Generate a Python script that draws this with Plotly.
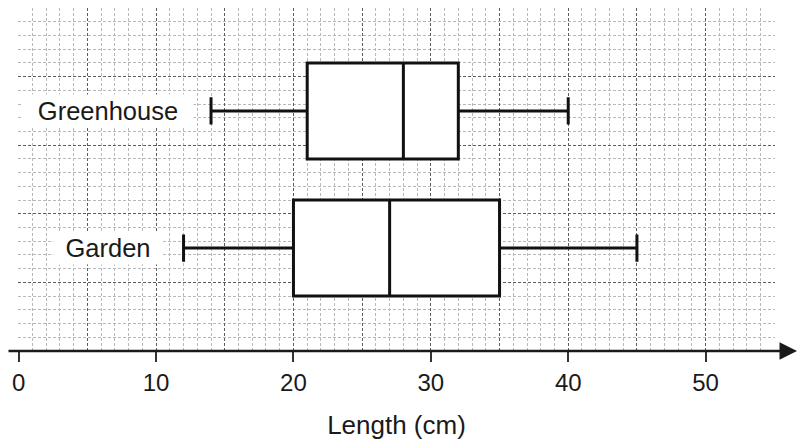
import plotly.graph_objects as go

# ---- data ----
groups = ["Greenhouse", "Garden"]
group_pos = [17.5, 7.5]
minimum = [14, 12]
lower_quartile = [21, 20]
median = [28, 27]
upper_quartile = [32, 35]
maximum = [40, 45]
tick_values = [0, 10, 20, 30, 40, 50]
tick_labels = ["0", "10", "20", "30", "40", "50"]
x_title = "Length (cm)"

FONT = "Liberation Sans, Arial, sans-serif"
INK = "#1a1a1a"
MINOR = "#b8b8b8"
MAJOR = "#5c5c5c"

fig = go.Figure()
fig.add_trace(go.Box(
    y=group_pos,
    q1=lower_quartile,
    median=median,
    q3=upper_quartile,
    lowerfence=minimum,
    upperfence=maximum,
    orientation="h",
    width=7,
    whiskerwidth=2 / 7,
    fillcolor="white",
    line=dict(color="#111111", width=3),
    boxpoints=False,
    showlegend=False,
    hoverinfo="skip",
))
# invisible companion trace so the labelled overlay axis is drawn
fig.add_trace(go.Scatter(
    x=maximum, y=group_pos, xaxis="x2", yaxis="y", mode="markers",
    marker=dict(opacity=0), showlegend=False, hoverinfo="skip",
))

for name, pos in zip(groups, group_pos):
    fig.add_annotation(
        x=6.5, y=pos, xref="x", yref="y", text=name, showarrow=False,
        font=dict(family=FONT, size=25.5, color=INK),
        bgcolor="white", borderpad=2,
        width=166 if name == "Greenhouse" else 104, height=28,
    )

# x axis line with arrow
fig.add_annotation(
    x=(797 - 18) / 757, y=0, xref="paper", yref="paper",
    ax=-790, ay=0, axref="pixel", ayref="pixel",
    text="", showarrow=True, arrowhead=2, arrowsize=1.4,
    arrowwidth=2.5, arrowcolor=INK, standoff=0, startstandoff=0,
)

fig.update_layout(
    width=798, height=443,
    margin=dict(l=18, r=23, t=8, b=90),
    paper_bgcolor="white", plot_bgcolor="white",
    font=dict(family=FONT, color=INK),
    xaxis=dict(
        range=[-0.05, 55.05], tick0=0, dtick=5, showgrid=True,
        gridcolor=MAJOR, gridwidth=1, griddash="3px,2px",
        showticklabels=False, ticks="", zeroline=False, showline=False,
        minor=dict(tick0=0, dtick=1, showgrid=True, gridcolor=MINOR,
                   gridwidth=1, griddash="3px,2px", ticks=""),
        fixedrange=True,
    ),
    xaxis2=dict(
        overlaying="x", anchor="y", side="bottom",
        range=[-0.05, 55.05], tickmode="array", tickvals=tick_values,
        ticktext=tick_labels, ticks="outside", ticklen=10, tickwidth=1.5,
        tickcolor="#333333", showgrid=False, zeroline=False, showline=False,
        tickfont=dict(family=FONT, size=24, color=INK),
        title=dict(text=x_title, font=dict(family=FONT, size=26, color=INK),
                   standoff=21),
        fixedrange=True,
    ),
    yaxis=dict(
        range=[0, 25], tick0=0, dtick=5, showgrid=True,
        gridcolor=MAJOR, gridwidth=1, griddash="3px,2px",
        showticklabels=False, ticks="", zeroline=False, showline=False,
        minor=dict(tick0=0, dtick=1, showgrid=True, gridcolor=MINOR,
                   gridwidth=1, griddash="3px,2px", ticks=""),
        fixedrange=True,
    ),
)

fig.write_html(
    "out.html",
    config={"displayModeBar": False},
    post_script="document.body.style.margin='0px';document.body.style.overflow='hidden';",
)
